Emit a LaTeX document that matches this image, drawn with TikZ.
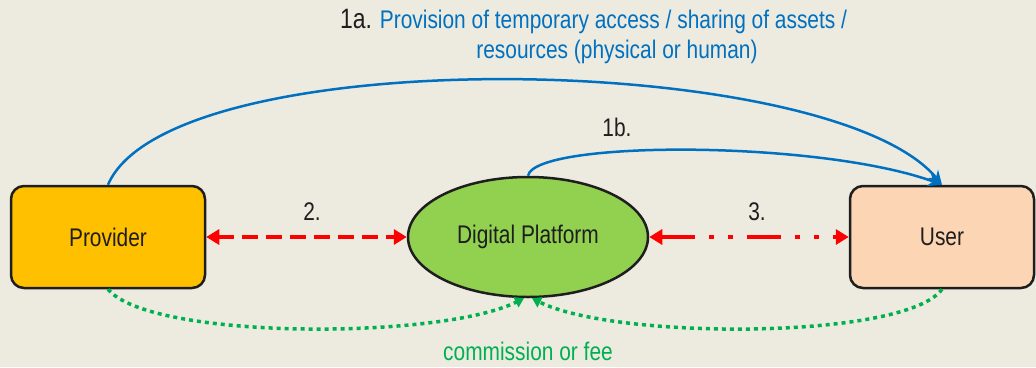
\documentclass[tikz,border=0pt]{standalone}
\usepackage{fontspec}
\setmainfont[FakeStretch=0.82]{Liberation Sans}
\usetikzlibrary{arrows.meta,shapes.geometric}
\definecolor{bg}{RGB}{237,235,224}
\definecolor{provfill}{RGB}{255,192,0}
\definecolor{platfill}{RGB}{146,208,80}
\definecolor{userfill}{RGB}{252,213,180}
\definecolor{flowblue}{RGB}{0,112,192}
\definecolor{feegreen}{RGB}{0,176,80}
\definecolor{ink}{RGB}{30,30,30}
\newcommand{\bigfont}{\fontsize{25.5}{30}\selectfont}
\tikzstyle{actor}=[rectangle, rounded corners=13pt, draw=ink, line width=2.5pt, minimum height=102pt, text=ink, font=\bigfont]
\tikzstyle{platform}=[ellipse, draw=ink, line width=2.5pt, fill=platfill, minimum width=240pt, minimum height=120pt, text=ink, font=\bigfont, inner sep=0pt]
\tikzstyle{access}=[flowblue, line width=2.5pt, -{Stealth[length=14pt,width=13pt]}]
\tikzstyle{talk}=[red, line width=3.5pt, {Triangle[length=13pt,width=15pt]}-{Triangle[length=13pt,width=15pt]}]
\tikzstyle{fee}=[feegreen, line width=3.5pt, dash pattern=on 4pt off 4pt, -{Triangle[length=9pt,width=11pt]}]
\tikzstyle{lbl}=[text=ink, font=\bigfont, inner sep=0pt]

\begin{document}
\begin{tikzpicture}[x=1pt, y=-1pt]
\fill[bg] (0,0) rectangle (1036,367);
\useasboundingbox (0,0) rectangle (1036,367);
\node[actor, fill=provfill, minimum width=194pt] (prov) at (108,237) {Provider};
\node[platform] (plat) at (528,237) {Digital Platform};
\node[actor, fill=userfill, minimum width=184pt] (user) at (942,237) {User};
\draw[access] (prov.north) .. controls (170,40) and (830,50) .. (user.north);
\draw[access] (plat.north) .. controls (535,140) and (820,140) .. (user.north);
\draw[talk, dash pattern=on 16pt off 8pt] (prov) -- (plat);
\draw[talk, dash pattern=on 34pt off 14pt on 5pt off 14pt on 5pt off 14pt] (plat) -- (user);
\draw[fee] (prov.south) .. controls (150,340) and (440,340) .. ([xshift=-4pt]plat.south);
\draw[fee] (user.south) .. controls (905,340) and (615,340) .. ([xshift=4pt]plat.south);
\node[lbl] (l2) at (312,212) {2.};
\node[lbl] (l3) at (757,212) {3.};
\node[lbl] (l1b) at (617,127) {1b.};
\node[lbl, text=feegreen] (lfee) at (528,351) {commission or fee};
\node[lbl, anchor=west] (l1a) at (340,22) {{\fontsize{28}{30}\selectfont 1a.} \textcolor{flowblue}{Provision of temporary access / sharing of assets /}};
\node[lbl, text=flowblue] (l1a2) at (617,52) {resources (physical or human)};
\end{tikzpicture}
\end{document}
